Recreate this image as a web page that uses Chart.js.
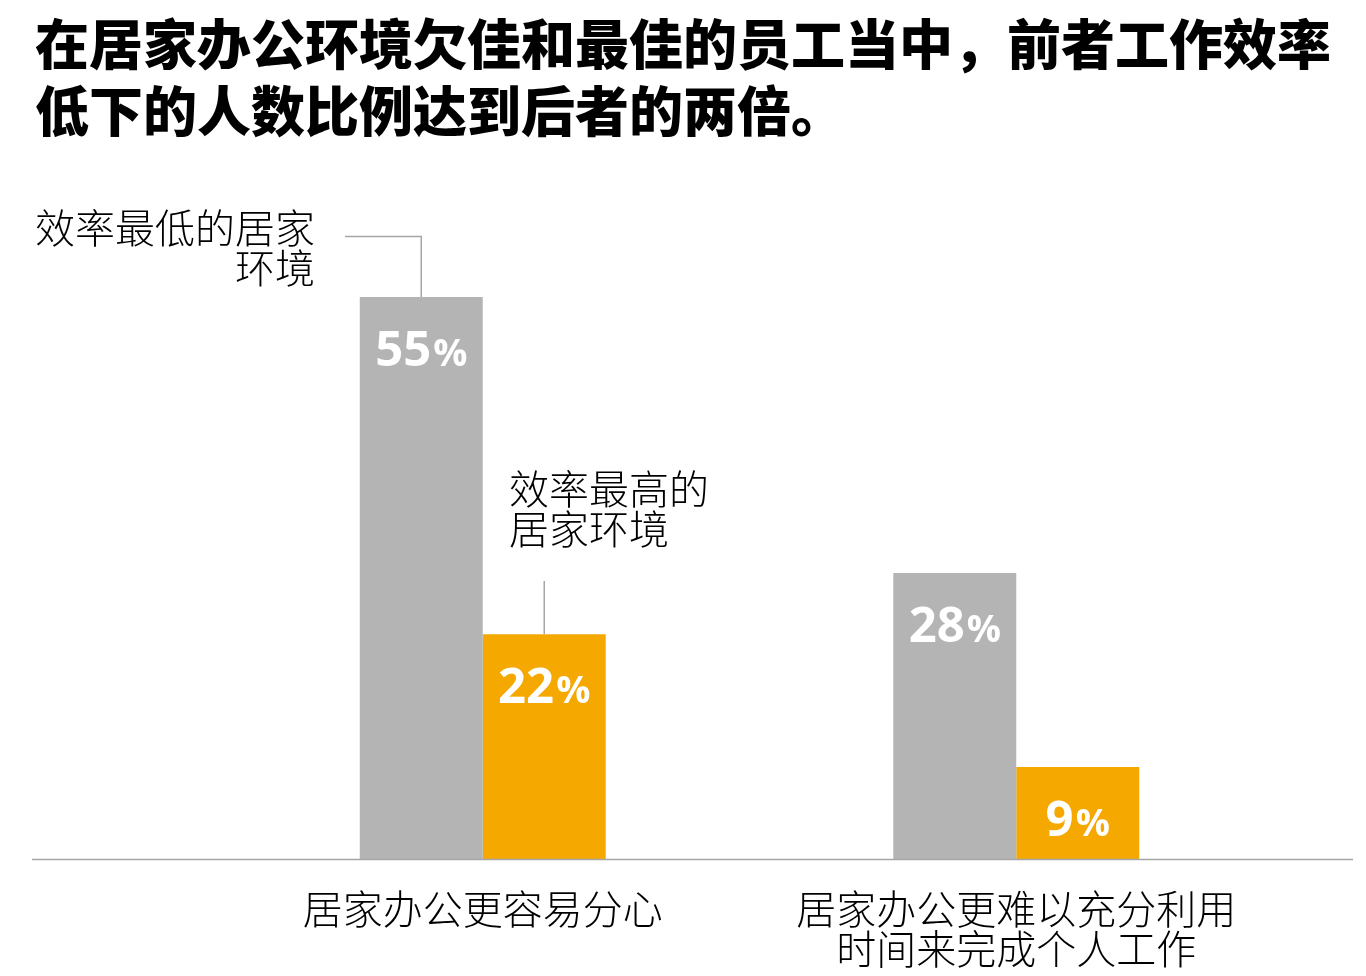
<!DOCTYPE html>
<html lang="zh-CN">
<head>
<meta charset="utf-8">
<title>居家办公环境与工作效率</title>
<script src="https://cdn.jsdelivr.net/npm/chart.js@4.4.1/dist/chart.umd.min.js"></script>
<style>
  html, body { margin: 0; padding: 0; background: #ffffff; }
  #chart { display: block; }
</style>
</head>
<body>
<canvas id="chart" width="1366" height="976"></canvas>
<script>
// Datos del gráfico
const titleLines = ['在居家办公环境欠佳和最佳的员工当中，前者工作效率', '低下的人数比例达到后者的两倍。'];
const categories = [['居家办公更容易分心'], ['居家办公更难以充分利用', '时间来完成个人工作']];
const seriesNames = [['效率最低的居家', '环境'], ['效率最高的', '居家环境']];
const worstValues = [55, 28];
const bestValues = [22, 9];

const GRAY = '#b4b4b4';
const ORANGE = '#f5a800';
const LINE = '#a6a6a6';
const CJK = "'Noto Sans CJK SC', 'Noto Sans', sans-serif";
const NUM_FONT = "700 49px 'Open Sans', sans-serif";
const PCT_FONT = "700 38px 'Open Sans', sans-serif";

// Título, línea base, etiquetas de categoría y anotaciones
const decorPlugin = {
    id: 'decor',
    afterDraw(chart) {
        const ctx = chart.ctx;
        const x = chart.scales.x;
        const y = chart.scales.y;
        const base = y.getPixelForValue(0);

        ctx.save();
        // título
        ctx.fillStyle = '#000';
        ctx.font = '900 54px ' + CJK;
        ctx.textAlign = 'left';
        ctx.textBaseline = 'middle';
        ctx.fillText(titleLines[0], 35, 44);
        ctx.fillText(titleLines[1], 35, 111);

        // línea base
        ctx.strokeStyle = LINE;
        ctx.lineWidth = 1.5;
        ctx.beginPath();
        ctx.moveTo(32, base + 0.5);
        ctx.lineTo(1353, base + 0.5);
        ctx.stroke();

        // etiquetas de categoría
        ctx.font = '300 40px ' + CJK;
        ctx.textAlign = 'center';
        categories.forEach((lines, i) => {
            const cx = x.getPixelForValue(i);
            lines.forEach((t, j) => ctx.fillText(t, cx, base + 50 + j * 40));
        });

        // anotaciones de serie
        const worstBar = chart.getDatasetMeta(0).data[0];
        const bestBar = chart.getDatasetMeta(1).data[0];

        ctx.textAlign = 'right';
        ctx.fillText(seriesNames[0][0], 315, 228);
        ctx.fillText(seriesNames[0][1], 315, 268);
        ctx.textAlign = 'left';
        ctx.fillText(seriesNames[1][0], 509, 489);
        ctx.fillText(seriesNames[1][1], 509, 529);

        ctx.strokeStyle = LINE;
        ctx.lineWidth = 1.5;
        ctx.beginPath();
        ctx.moveTo(345, 236.5);
        ctx.lineTo(worstBar.x, 236.5);
        ctx.lineTo(worstBar.x, worstBar.y);
        ctx.moveTo(bestBar.x, 581);
        ctx.lineTo(bestBar.x, bestBar.y);
        ctx.stroke();
        ctx.restore();
    }
};

// Valores en blanco dentro de cada barra
const valueLabelPlugin = {
    id: 'valueLabels',
    afterDatasetsDraw(chart) {
        const ctx = chart.ctx;
        const base = chart.scales.y.getPixelForValue(0);
        ctx.save();
        ctx.fillStyle = '#ffffff';
        ctx.textBaseline = 'alphabetic';
        ctx.textAlign = 'left';
        chart.data.datasets.forEach((ds, di) => {
            chart.getDatasetMeta(di).data.forEach((bar, i) => {
                const num = String(ds.data[i]);
                ctx.font = NUM_FONT;
                const wNum = ctx.measureText(num).width;
                ctx.font = PCT_FONT;
                const wPct = ctx.measureText('%').width;
                const gap = 2;
                const left = bar.x - (wNum + wPct + gap) / 2;
                const yy = Math.min(bar.y + 69, base - 17);
                ctx.font = NUM_FONT;
                ctx.fillText(num, left, yy);
                ctx.font = PCT_FONT;
                ctx.fillText('%', left + wNum + gap, yy);
            });
        });
        ctx.restore();
    }
};

new Chart(document.getElementById('chart'), {
    type: 'bar',
    data: {
        labels: categories,
        datasets: [{
            label: seriesNames[0].join(''),
            data: worstValues,
            backgroundColor: GRAY,
            borderWidth: 0
        }, {
            label: seriesNames[1].join(''),
            data: bestValues,
            backgroundColor: ORANGE,
            borderWidth: 0
        }]
    },
    options: {
        responsive: false,
        devicePixelRatio: 1,
        animation: false,
        layout: {
            padding: { left: 216, right: 83, top: 246, bottom: 117 }
        },
        datasets: {
            bar: { categoryPercentage: 0.461, barPercentage: 1 }
        },
        scales: {
            x: { display: false },
            y: { display: false, min: 0, max: 60 }
        },
        plugins: {
            legend: { display: false },
            tooltip: { enabled: false },
            title: { display: false }
        }
    },
    plugins: [decorPlugin, valueLabelPlugin]
});
</script>
</body>
</html>
